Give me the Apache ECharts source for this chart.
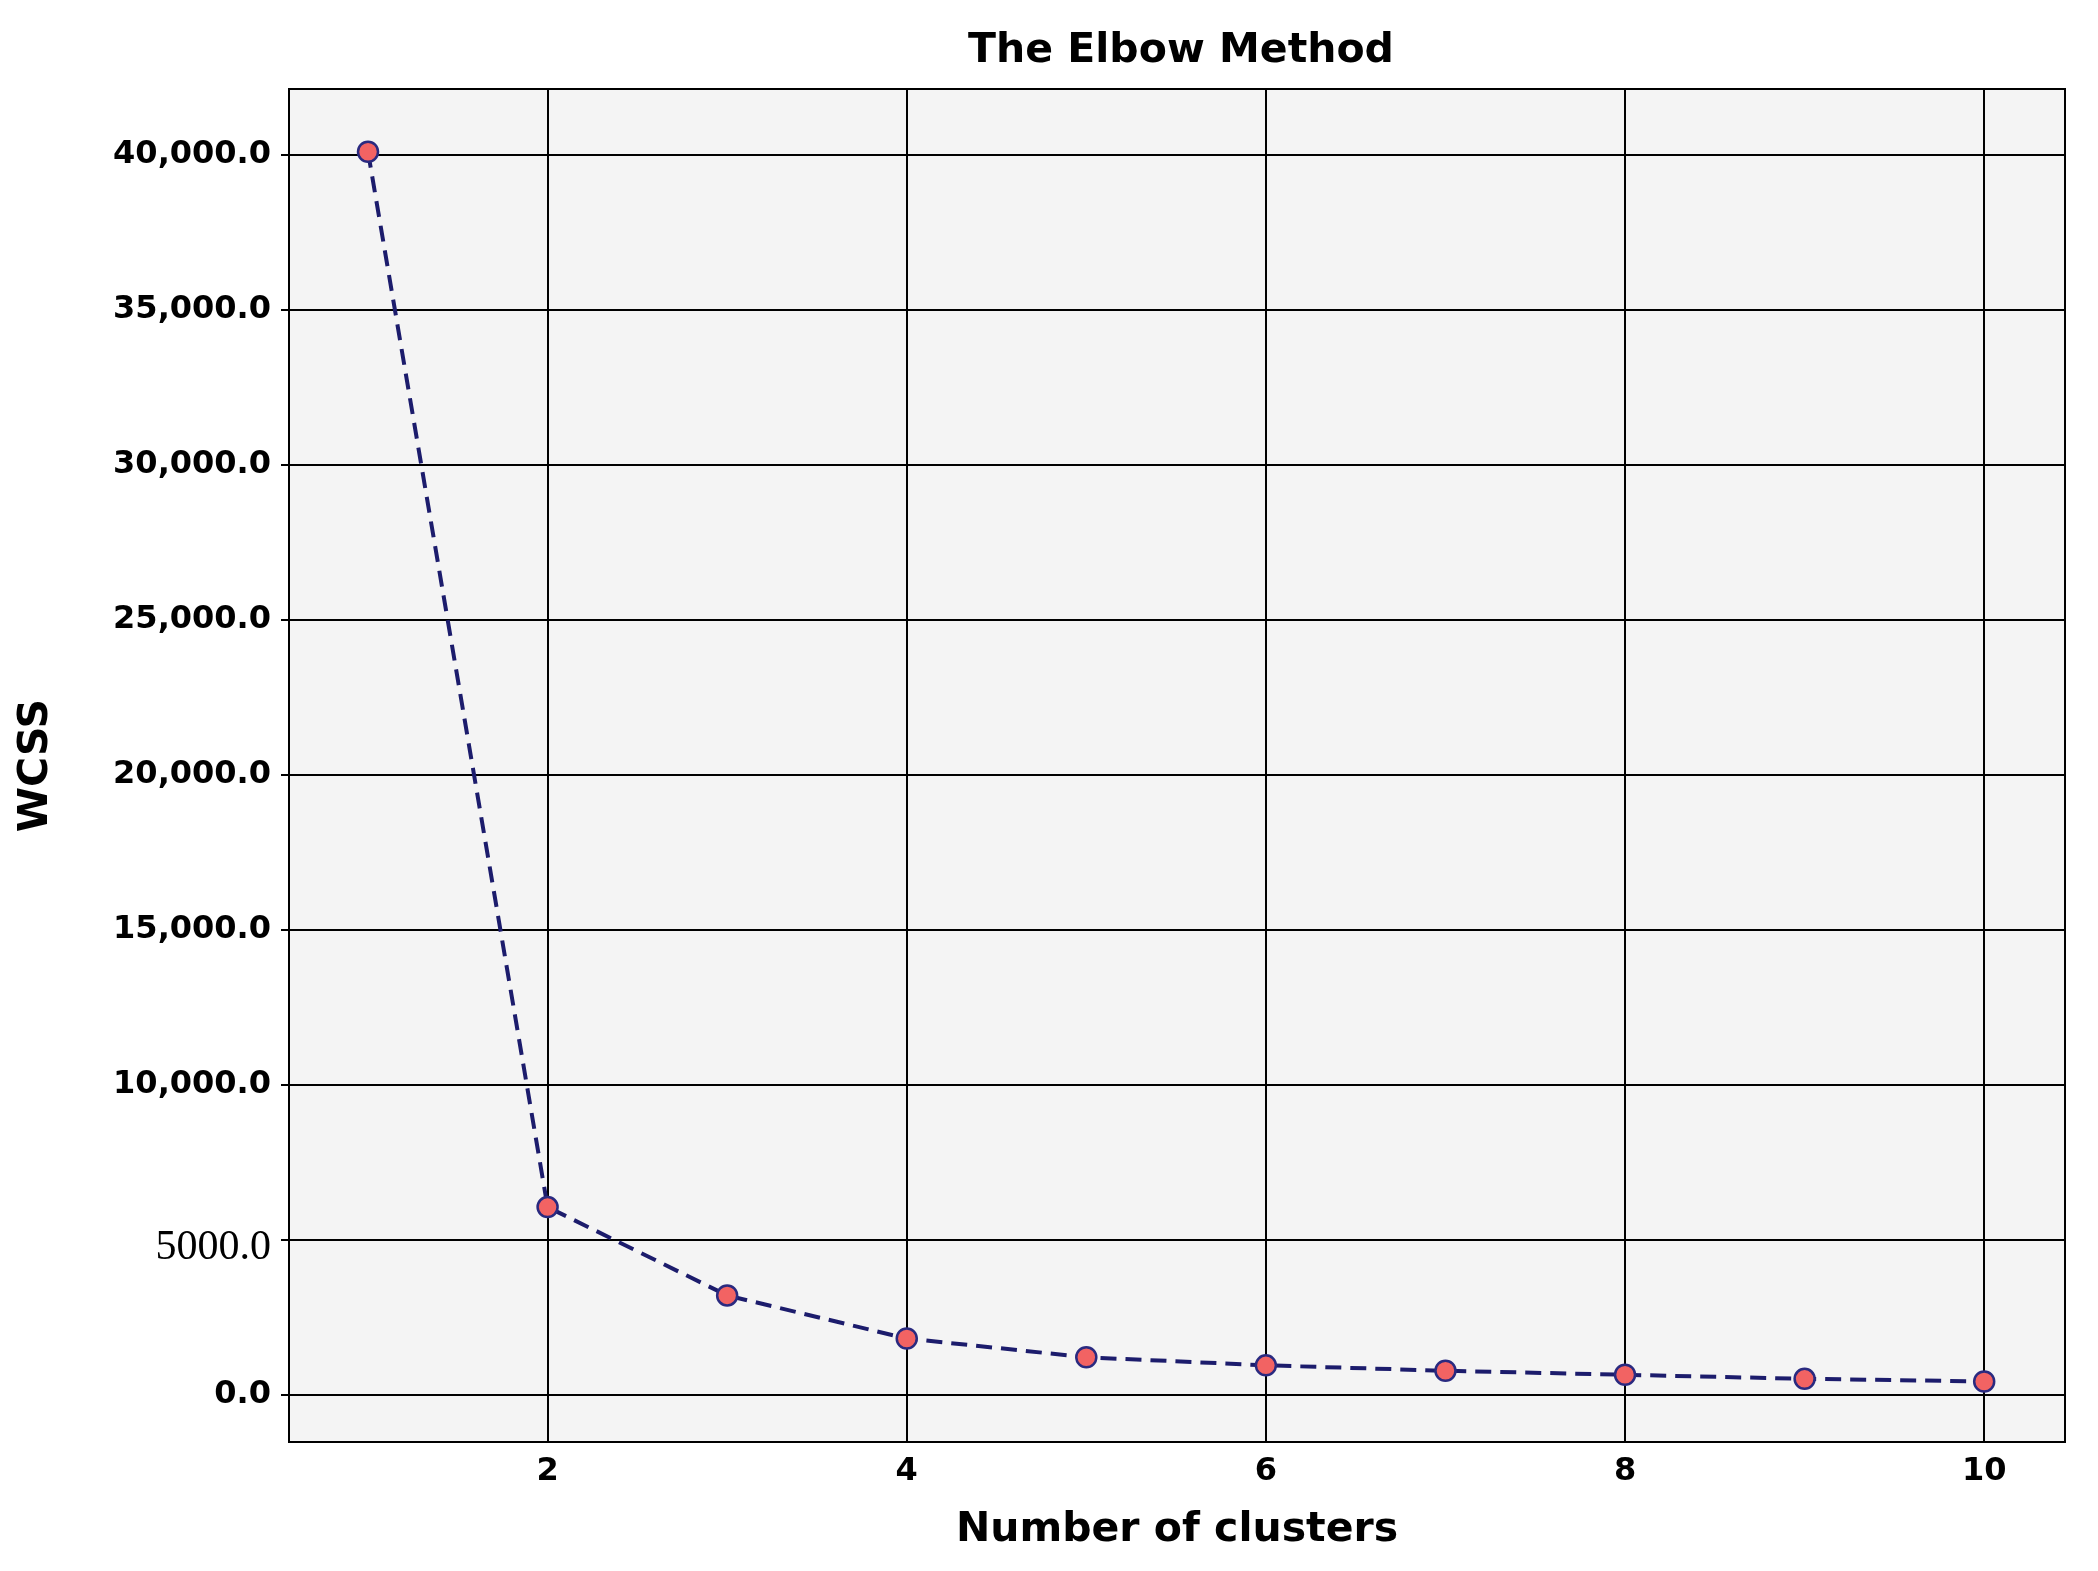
<!DOCTYPE html>
<html><head><meta charset="utf-8">
<script src="https://cdn.jsdelivr.net/npm/echarts@6/dist/echarts.min.js"></script>
<style>html,body{margin:0;background:#fff}#c{width:2098px;height:1571px}</style>
</head><body><div id="c"></div>
<script>
const clusters = [1,2,3,4,5,6,7,8,9,10];
const wcss = [40100,6060,3210,1820,1215,955,780,650,520,435];
const xTicks = [2,4,6,8,10];
const yTicks = [0,5000,10000,15000,20000,25000,30000,35000,40000];
const chart = echarts.init(document.getElementById('c'));
const F = 'DejaVu Sans';
chart.setOption({
  backgroundColor:'#fff',
  title:{text:'The Elbow Method',left:1176,top:26,textAlign:'center',textStyle:{fontFamily:F,fontWeight:'bold',fontSize:41,color:'#000'}},
  grid:{left:289,right:33,top:89,bottom:129,show:true,backgroundColor:'#f4f4f4',borderColor:'#000',borderWidth:2},
  xAxis:{type:'value',min:0.56,max:10.45,name:'Number of clusters',nameLocation:'middle',nameGap:68,
    nameTextStyle:{fontFamily:F,fontWeight:'bold',fontSize:41,color:'#000'},
    axisLine:{lineStyle:{color:'#000',width:2}},
    axisTick:{customValues:xTicks,length:8,lineStyle:{color:'#000',width:2}},
    axisLabel:{customValues:xTicks,fontFamily:F,fontWeight:'bold',fontSize:32,color:'#000',margin:14},
    splitLine:{show:true,lineStyle:{color:'#000',width:2}}},
  yAxis:{type:'value',min:-1518,max:42126,name:'WCSS',nameLocation:'middle',nameGap:232,
    nameTextStyle:{fontFamily:F,fontWeight:'bold',fontSize:41,color:'#000'},
    axisLine:{lineStyle:{color:'#000',width:2}},
    axisTick:{customValues:yTicks,length:8,lineStyle:{color:'#000',width:2}},
    axisLabel:{customValues:yTicks,margin:18,
      formatter:v=> v===5000 ? '{s|5000.0}' : '{b|'+(v>=10000? v.toLocaleString('en-US'):String(v))+'.0}',
      rich:{b:{fontFamily:F,fontWeight:'bold',fontSize:32,color:'#000'},s:{fontFamily:'Liberation Serif',fontSize:42,color:'#000',padding:[16,0,0,0]}}},
    splitLine:{show:true,lineStyle:{color:'#000',width:2}}},
  series:[{type:'line',data:clusters.map((c,i)=>[c,wcss[i]]),symbol:'circle',symbolSize:20,
    lineStyle:{color:'#1c1c6c',width:4,type:[16,9]},
    itemStyle:{color:'#f26363',borderColor:'#2a2a80',borderWidth:2.5},z:5}]
});
</script></body></html>
